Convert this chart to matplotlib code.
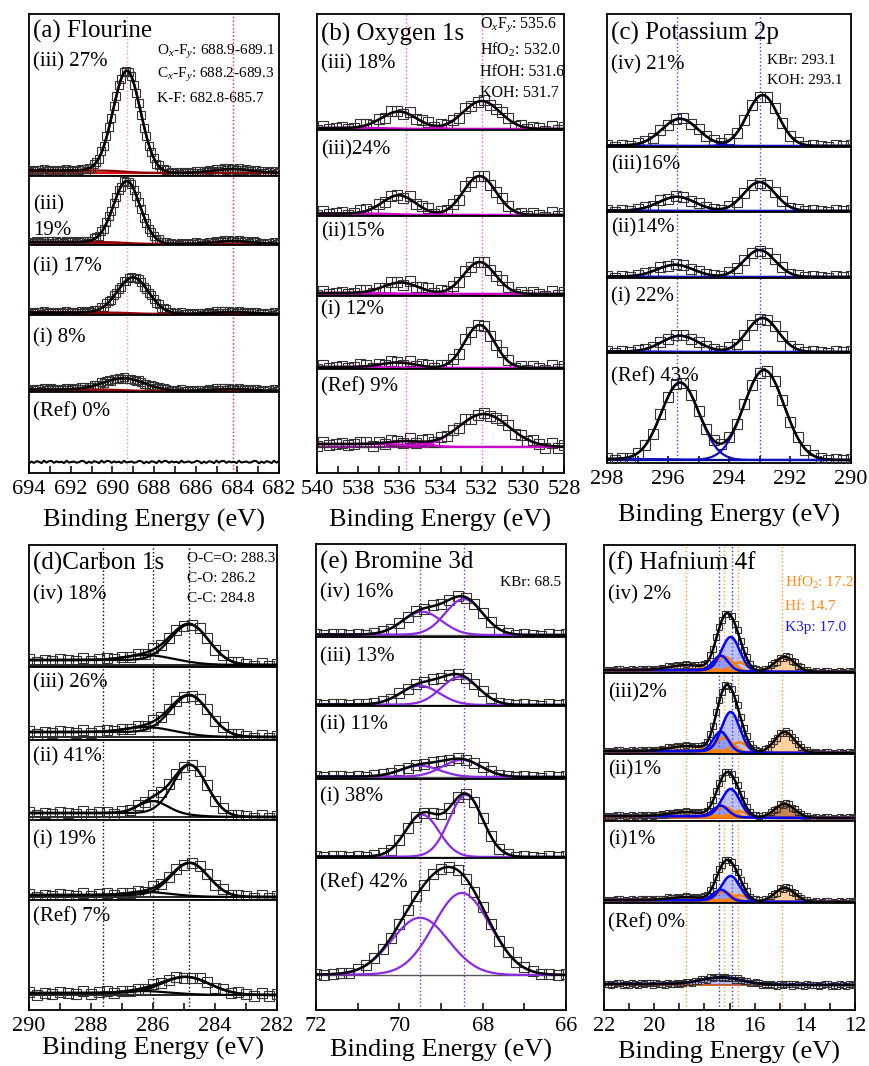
import numpy as np
import matplotlib
matplotlib.use("Agg")
import matplotlib.pyplot as plt

plt.rcParams['font.family'] = ['Liberation Serif', 'DejaVu Serif']
plt.rcParams['mathtext.fontset'] = 'custom'
plt.rcParams['mathtext.rm'] = 'Liberation Serif'
plt.rcParams['mathtext.it'] = 'Liberation Serif:italic'

# ---------------- data: peak components (centre eV, height, FWHM eV) ----------------
# (a) Fluorine 1s
FL_LABELS = ["(iii) 27%", "(iii)\n19%", "(ii) 17%", "(i) 8%", "(Ref) 0%"]
FL_PEAKS = [
    [(689.3, 101, 1.55), (684.2, 4, 2.2)],
    [(689.3, 62, 1.5), (684.2, 3, 2.2)],
    [(689.0, 36, 1.75), (684.2, 2, 2.2)],
    [(689.4, 12, 2.3), (684.2, 2, 2.2)],
    [],
]
FL_BG = [2.5, 2.0, 1.5, 1.5, 0.0]
FL_REFS = [689.3, 684.2]
FL_NOTES = ["O$_x$-F$_y$: 688.9-689.1", "C$_x$-F$_y$: 688.2-689.3", "K-F: 682.8-685.7"]

# (b) Oxygen 1s
OX_LABELS = ["(iii) 18%", "(iii)24%", "(ii)15%", "(i) 12%", "(Ref) 9%"]
OX_PEAKS = [
    [(536.0, 17, 2.0), (532.0, 28, 2.1)],
    [(536.0, 19, 1.9), (532.1, 39, 1.85)],
    [(535.9, 11, 2.0), (532.1, 32, 1.8)],
    [(536.0, 5, 2.0), (532.1, 43, 1.7)],
    [(535.5, 4, 2.0), (531.9, 33, 2.9)],
]
OX_BG = [1.0, 1.5, 1.0, 1.0, 3.0]
OX_REFS = [535.7, 532.0]
OX_NOTES = ["O$_x$F$_y$: 535.6", "HfO$_2$: 532.0", "HfOH: 531.6", "KOH: 531.7"]

# (c) Potassium 2p
K_LABELS = ["(iv) 21%", "(iii)16%", "(ii)14%", "(i) 22%", "(Ref) 43%"]
K_PEAKS = [
    [(295.6, 27, 1.4), (292.9, 51, 1.2)],
    [(295.7, 14, 1.4), (293.0, 29, 1.2)],
    [(295.75, 12, 1.4), (293.0, 27, 1.2)],
    [(295.6, 16, 1.4), (292.9, 34, 1.2)],
    [(295.6, 77, 1.45), (292.85, 90, 1.55)],
]
K_BG = [0.5, 0.5, 0.5, 0.5, 1.0]
K_REFS = [295.7, 293.0]
K_NOTES = ["KBr: 293.1", "KOH: 293.1"]

# (d) Carbon 1s
C_LABELS = ["(iv) 18%", "(iii) 26%", "(ii) 41%", "(i) 19%", "(Ref) 7%"]
C_PEAKS = [
    [(284.8, 38, 1.45), (286.2, 5, 1.6)],
    [(284.8, 39, 1.45), (286.2, 5, 1.6)],
    [(284.8, 50, 1.3), (286.0, 12, 1.1)],
    [(284.8, 33, 1.4), (286.2, 3, 1.5)],
    [(284.9, 17, 1.8), (286.3, 2, 1.5)],
]
C_BG = [5.0, 5.0, 4.0, 2.0, 2.0]
C_REFS = [287.6, 286.0, 284.85]
C_NOTES = ["O-C=O: 288.3", "C-O: 286.2", "C-C: 284.8"]

# (e) Bromine 3d
BR_LABELS = ["(iv) 16%", "(iii) 13%", "(ii) 11%", "(i) 38%", "(Ref) 42%"]
BR_PEAKS = [
    [(69.45, 23, 1.1), (68.45, 36, 1.05)],
    [(69.5, 19, 1.1), (68.55, 28, 1.05)],
    [(69.5, 11, 1.1), (68.5, 17, 1.1)],
    [(69.45, 42, 0.95), (68.4, 62, 0.95)],
    [(69.5, 57, 1.6), (68.5, 82, 1.6)],
]
BR_BG = [0.5, 0.5, 0.5, 0.5, 0.5]
BR_REFS = [69.5, 68.45]
BR_NOTES = ["KBr: 68.5"]

# (f) Hafnium 4f: blue = K 3p doublet, orange = Hf 4f / HfO2 components
HF_LABELS = ["(iv) 2%", "(iii)2%", "(ii)1%", "(i)1%", "(Ref) 0%"]
HF_BLUE = [
    [(16.95, 34, 0.85), (17.35, 15, 0.7)],
    [(16.95, 40, 0.85), (17.35, 20, 0.7)],
    [(16.95, 28, 0.85), (17.35, 11, 0.7)],
    [(16.95, 25, 0.85), (17.35, 11, 0.7)],
    [(17.3, 7, 1.9)],
]
HF_ORANGE = [
    [(17.2, 14, 0.8), (16.6, 9, 0.7), (18.7, 5, 1.6)],
    [(17.2, 14, 0.8), (16.6, 10, 0.7), (18.7, 5, 1.6)],
    [(17.2, 10, 0.8), (16.6, 6, 0.7), (18.7, 4, 1.6)],
    [(17.2, 9, 0.8), (16.6, 6, 0.7), (18.7, 3, 1.6)],
    [],
]
HF_METAL = [(14.8, 15, 0.95), (14.8, 21, 0.95), (14.8, 14, 0.95), (14.8, 14, 0.95), None]
HF_BG = [2.0, 2.0, 2.0, 2.0, 1.0]
HF_REFS_ORANGE = [18.73, 17.22, 16.66, 14.91]
HF_REFS_BLUE = [17.42, 16.9]
HF_NOTES = ["HfO$_2$: 17.2", "Hf: 14.7", "K3p: 17.0"]

# measurement scatter about the fitted envelope (counts)
RESID = [0.9, -0.6, 1.3, -1.1, 0.2, 0.8, -0.9, 0.4, -1.3, 0.7, 1.1, -0.2,
         -0.7, 0.5, 0.0, -0.5, 1.2, -1.0, 0.3, -0.3, 0.6, -0.8, 1.0]

# ---------------- figure ----------------
W, H = 869, 1066
fig = plt.figure(figsize=(W / 100, H / 100), dpi=100)
XLABEL_FS = 19


def gauss(x, c, h, fwhm):
    return h * np.exp(-4.0 * np.log(2.0) * ((x - c) / fwhm) ** 2)


def step_bg(x, level, centre, width=0.8):
    return level * 0.5 * (1.0 + np.tanh((x - centre) / width))


def make_axes(left, right, edges, pads, xlim, major, minor):
    axes = []
    for i, (top, bot) in enumerate(zip(edges[:-1], edges[1:])):
        ax = fig.add_axes([left / W, 1 - bot / H, (right - left) / W, (bot - top) / H])
        h = bot - top
        ax.set_ylim(-pads[i], h - pads[i])
        ax.set_xlim(*xlim)
        for s in ax.spines.values():
            s.set_linewidth(1.3)
        ax.set_yticks([])
        if i == len(edges) - 2:
            ax.set_xticks(major)
            ax.set_xticks(minor, minor=True)
            ax.tick_params(axis='x', which='both', direction='in', length=5,
                           width=1.1, labelsize=16, pad=5, top=False)
        else:
            ax.set_xticks([])
        axes.append(ax)
    return axes


def labels_and_title(left, title, title_y, labels, label_ys, fs_lab=15):
    fig.text((left + 4) / W, 1 - title_y / H, title, fontsize=18, va='center', ha='left')
    for lab, y in zip(labels, label_ys):
        fig.text((left + 4) / W, 1 - y / H, lab, fontsize=fs_lab, va='center',
                 ha='left', linespacing=1.45)


def notes(x, ys, texts, colors=None, ha='left', fs=11):
    for i, (y, t) in enumerate(zip(ys, texts)):
        c = colors[i] if colors else 'black'
        fig.text(x / W, 1 - y / H, t, fontsize=fs, va='center', ha=ha, color=c)


def draw_standard(axes, energies, peaks, bgs, refs, ref_colors, comp_color, base_color,
                  res_scale, ms, comp_lw=1.6, base_lw=1.6, line_ref=False):
    xf = np.linspace(energies.min(), energies.max(), 600)
    for k, ax in enumerate(axes):
        for r, rc in zip(refs, ref_colors):
            ax.axvline(r, color=rc, ls=':', lw=1.0, zorder=1)
        pk = peaks[k]
        centre = pk[0][0] if pk else energies.mean()
        bgf = step_bg(xf, bgs[k], centre)
        bgd = step_bg(energies, bgs[k], centre)
        res = np.resize(np.array(RESID), energies.size) * res_scale
        if line_ref and not pk:
            ax.plot(energies, bgd + res, color='black', lw=1.5, zorder=3)
            continue
        fit = bgf.copy()
        datav = bgd + res
        for p in pk:
            fit += gauss(xf, *p)
            datav += gauss(energies, *p)
        ax.plot(xf, np.zeros_like(xf), color=base_color, lw=base_lw, zorder=2)
        ax.plot(energies, datav, 's', mfc='none', mec='#333333', ms=ms, mew=0.8, zorder=3)
        for p in pk:
            ax.plot(xf, bgf + gauss(xf, *p), color=comp_color, lw=comp_lw, zorder=4)
        ax.plot(xf, fit, color='black', lw=1.8, zorder=5)


# ---- (a) Fluorine ----
E_FL = np.arange(682.0, 694.001, 0.12)
axA = make_axes(29, 279, [14, 176, 245, 315, 392, 473], [3, 1, 1, 1, 11],
                (694, 682), np.arange(682, 695, 2), np.arange(682, 695, 1))
draw_standard(axA, E_FL, FL_PEAKS, FL_BG, FL_REFS, ['#ff9a9a', '#ff2020'],
              '#8b0000', '#dd1111', 1.0, 5.5, line_ref=True)
labels_and_title(29, "(a) Flourine", 31, FL_LABELS, [62, 218, 267, 338, 412])
notes(157, [52, 75, 98], FL_NOTES)
fig.text(154 / W, 1 - 520 / H, "Binding Energy (eV)", fontsize=XLABEL_FS, ha='center', va='center')

# ---- (b) Oxygen ----
E_OX = np.arange(528.0, 540.001, 0.3)
axB = make_axes(317, 564, [14, 130, 216, 296, 369, 473], [1, 1, 2, 1, 26],
                (540, 528), np.arange(528, 541, 2), np.arange(528, 541, 1))
draw_standard(axB, E_OX, OX_PEAKS, OX_BG, OX_REFS, ['#ff55ff', '#ff55ff'],
              '#cc00cc', '#b000b0', 2.0, 7)
labels_and_title(317, "(b) Oxygen 1s", 34, OX_LABELS, [64, 150, 232, 310, 387])
notes(480, [25, 50, 72, 93], OX_NOTES, fs=11.5)
fig.text(440 / W, 1 - 520 / H, "Binding Energy (eV)", fontsize=XLABEL_FS, ha='center', va='center')

# ---- (c) Potassium ----
E_K = np.arange(290.0, 298.001, 0.25)
axC = make_axes(607, 851, [14, 147, 212, 278, 353, 463], [1, 1, 1, 1, 3],
                (298, 290), np.arange(290, 299, 2), np.arange(290, 299, 1))
draw_standard(axC, E_K, K_PEAKS, K_BG, K_REFS, ['#3344ff', '#3344ff'],
              '#1010c0', '#000090', 0.8, 6.5)
labels_and_title(607, "(c) Potassium 2p", 33, K_LABELS, [65, 165, 228, 297, 377])
notes(767, [60, 80], K_NOTES)
fig.text(729 / W, 1 - 515 / H, "Binding Energy (eV)", fontsize=XLABEL_FS, ha='center', va='center')

# ---- (d) Carbon ----
E_C = np.arange(282.0, 290.001, 0.25)
axD = make_axes(29, 277, [545, 667, 740, 820, 900, 1010], [2, 3, 3, 3, 15],
                (290, 282), np.arange(282, 291, 2), np.arange(282, 291, 1))
draw_standard(axD, E_C, C_PEAKS, C_BG, C_REFS, ['black'] * 3,
              'black', 'black', 1.2, 6.5, base_lw=1.2)
labels_and_title(29, "(d)Carbon 1s", 563, C_LABELS, [595, 683, 757, 840, 917])
notes(187, [558, 579, 598], C_NOTES)
fig.text(153 / W, 1 - 1048 / H, "Binding Energy (eV)", fontsize=XLABEL_FS, ha='center', va='center')

# ---- (e) Bromine ----
E_BR = np.arange(66.0, 72.001, 0.2)
axE = make_axes(316, 566, [544, 637, 706, 779, 858, 1010], [2, 1, 2, 1, 35],
                (72, 66), np.arange(66, 73, 2), np.arange(66, 73, 1))
draw_standard(axE, E_BR, BR_PEAKS, BR_BG, BR_REFS, ['#8a2be2', '#8a2be2'],
              '#8a2be2', '#555555', 0.6, 6.5, base_lw=1.0)
labels_and_title(316, "(e) Bromine 3d", 562, BR_LABELS, [593, 657, 725, 797, 883])
notes(561, [582], BR_NOTES, ha='right')
fig.text(441 / W, 1 - 1050 / H, "Binding Energy (eV)", fontsize=XLABEL_FS, ha='center', va='center')

# ---- (f) Hafnium ----
E_HF = np.arange(12.0, 22.001, 0.12)
axF = make_axes(604, 855, [545, 673, 754, 821, 903, 1010], [1, 1, 3, 1, 25],
                (22, 12), np.arange(12, 23, 2), np.arange(12, 23, 1))
xf = np.linspace(12, 22, 800)
metal_fill = ['#ffc890', '#ffc890', '#c0703a', '#ffc890', None]
for k, ax in enumerate(axF):
    for r in HF_REFS_ORANGE:
        ax.axvline(r, color='#ff9933', ls=':', lw=1.0, zorder=1)
    for r in HF_REFS_BLUE:
        ax.axvline(r, color='#3333ff', ls=':', lw=1.0, zorder=1)
    bgf = step_bg(xf, HF_BG[k], 16.9, 1.2)
    bgd = step_bg(E_HF, HF_BG[k], 16.9, 1.2)
    res = np.resize(np.array(RESID), E_HF.size) * 0.8
    fit = bgf.copy()
    datav = bgd + res
    comps = HF_BLUE[k] + HF_ORANGE[k] + ([HF_METAL[k]] if HF_METAL[k] else [])
    for p in comps:
        fit += gauss(xf, *p)
        datav += gauss(E_HF, *p)
    ax.plot(xf, np.zeros_like(xf), color='#e06010', lw=1.4, zorder=2)
    if HF_METAL[k]:
        g = gauss(xf, *HF_METAL[k])
        ax.fill_between(xf, bgf, bgf + g, color=metal_fill[k], alpha=0.85, lw=0, zorder=2)
        ax.plot(xf, bgf + g, color='#ff8000', lw=1.8, zorder=4)
    for p in HF_ORANGE[k]:
        ax.plot(xf, bgf + gauss(xf, *p), color='#ff8000', lw=1.8, zorder=4)
    for p in HF_BLUE[k]:
        g = gauss(xf, *p)
        ax.fill_between(xf, bgf, bgf + g, color='#4455ff', alpha=0.35, lw=0, zorder=2)
        ax.plot(xf, bgf + g, color='#0000ee', lw=1.8, zorder=4)
    ax.plot(E_HF, datav, 's', mfc='none', mec='#333333', ms=5, mew=0.8, zorder=3)
    ax.plot(xf, fit, color='black', lw=1.8, zorder=5)
labels_and_title(604, "(f) Hafnium 4f", 563, HF_LABELS, [595, 693, 770, 840, 923])
notes(785, [582, 607, 627], HF_NOTES, colors=['#ff8c1a', '#ff8c1a', '#1a1aff'])
fig.text(729 / W, 1 - 1052 / H, "Binding Energy (eV)", fontsize=XLABEL_FS, ha='center', va='center')

fig.savefig("out.png", dpi=100)
